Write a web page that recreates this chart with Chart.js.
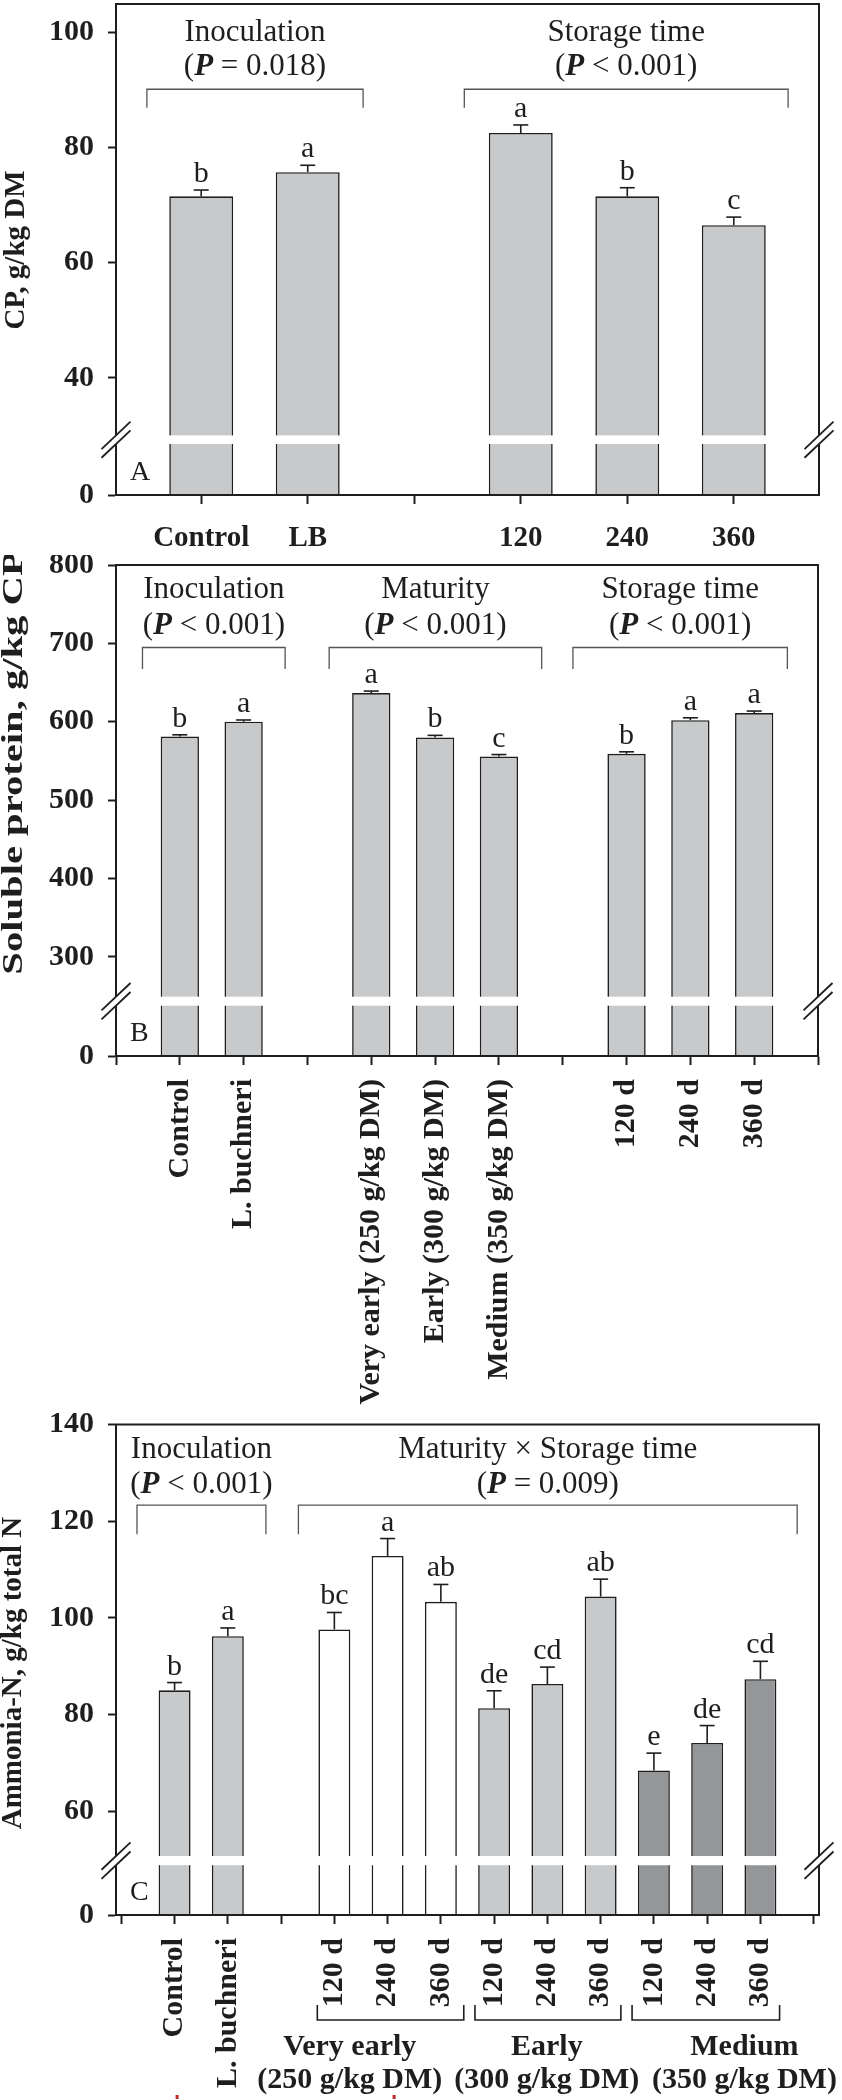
<!DOCTYPE html>
<html>
<head>
<meta charset="utf-8">
<script src="https://cdn.jsdelivr.net/npm/chart.js@4.4.1/dist/chart.umd.min.js"></script>
<style>
  html, body { margin: 0; padding: 0; background: #fff; }
  body { width: 842px; height: 2100px; position: relative; overflow: hidden; }
  canvas { position: absolute; left: 0; }
</style>
</head>
<body>
<canvas id="cA" width="842" height="560" style="top:0px;width:842px;height:560px"></canvas>
<canvas id="cB" width="842" height="865" style="top:555px;width:842px;height:865px"></canvas>
<canvas id="cC" width="842" height="710" style="top:1390px;width:842px;height:710px"></canvas>
<script>
// ---------------- DATA ----------------
// Panel A: crude protein
const catsA = ['Control', 'LB', '', '120', '240', '360'];
const cpA = [71.5, 75.7, null, 82.5, 71.5, 66.5];
const cpErrA = [1.1, 1.2, null, 1.4, 1.5, 1.4];
const cpLettersA = ['b', 'a', '', 'a', 'b', 'c'];
const yTicksA = [0, 40, 60, 80, 100];
const groupTitlesA = ['Inoculation', 'Storage time'];
const groupPA = ['= 0.018', '< 0.001'];

// Panel B: soluble protein
const catsB = ['Control', 'L. buchneri', '', 'Very early (250 g/kg DM)', 'Early (300 g/kg DM)', 'Medium (350 g/kg DM)', '', '120 d', '240 d', '360 d'];
const spB = [581, 600, null, 636.5, 580, 555.5, null, 559, 602, 611];
const spErrB = [2.3, 2.2, null, 2.6, 2.6, 2.6, null, 2.6, 3.0, 2.6];
const spLettersB = ['b', 'a', '', 'a', 'b', 'c', '', 'b', 'a', 'a'];
const yTicksB = [0, 300, 400, 500, 600, 700, 800];
const groupTitlesB = ['Inoculation', 'Maturity', 'Storage time'];
const groupPB = ['< 0.001', '< 0.001', '< 0.001'];

// Panel C: ammonia-N
const catsC = ['Control', 'L. buchneri', '', '120 d', '240 d', '360 d', '120 d', '240 d', '360 d', '120 d', '240 d', '360 d'];
const maturityOfC = ['', '', '', 'Very early', 'Very early', 'Very early', 'Early', 'Early', 'Early', 'Medium', 'Medium', 'Medium'];
const nh3C = [85.0, 96.2, null, 97.6, 112.8, 103.3, 81.3, 86.3, 104.4, 68.4, 74.1, 87.3];
const nh3ErrC = [1.6, 1.7, null, 3.5, 3.6, 3.6, 3.6, 3.5, 3.6, 3.6, 3.6, 3.7];
const nh3LettersC = ['b', 'a', '', 'bc', 'a', 'ab', 'de', 'cd', 'ab', 'e', 'de', 'cd'];
const yTicksC = [0, 60, 80, 100, 120, 140];
const groupTitlesC = ['Inoculation', 'Maturity \u00d7 Storage time'];
const groupPC = ['< 0.001', '= 0.009'];
const maturityNamesC = ['Very early', 'Early', 'Medium'];
const maturityDMC = ['(250 g/kg DM)', '(300 g/kg DM)', '(350 g/kg DM)'];

// ---------------- STYLE ----------------
const FONT = '"Liberation Serif", "Times New Roman", Times, serif';
const INK = '#1e1e1e';
const LIGHT = '#c8c9cb';
const DARK = '#959698';
Chart.defaults.font.family = FONT;
Chart.defaults.color = INK;

// Broken linear axis: values >= gapHigh map linearly; [0, lowMax] compressed to the bottom segment.
class BrokenLinearScale extends Chart.LinearScale {
  configure() {
    super.configure();
    const b = this.options.brk;
    if (b) { this._startValue = b.bottom; this._valueRange = this.max - b.bottom; }
  }
  toVirtual(v) {
    const b = this.options.brk;
    if (!b || v >= b.gapHigh) return v;
    if (v <= b.lowMax) return b.bottom + (v / b.lowMax) * (b.gapLow - b.bottom);
    return b.gapLow + (v - b.lowMax) / (b.gapHigh - b.lowMax) * (b.gapHigh - b.gapLow);
  }
  getPixelForValue(v) { return v == null ? NaN : super.getPixelForValue(this.toVirtual(v)); }
  getPixelForVirtual(v) { return super.getPixelForValue(v); }
}
BrokenLinearScale.id = 'brokenLinear';
BrokenLinearScale.defaults = Chart.LinearScale.defaults;
Chart.register(BrokenLinearScale);

function f(size, weight, style) { return `${style || 'normal'} ${weight || 'normal'} ${size}px ${FONT}`; }

function text(ctx, s, x, y, font, align, sx) {
  ctx.save();
  ctx.font = font; ctx.fillStyle = INK; ctx.textAlign = align || 'center'; ctx.textBaseline = 'alphabetic';
  ctx.translate(x, y); ctx.scale(sx || 1, 1); ctx.fillText(s, 0, 0);
  ctx.restore();
}
function vtext(ctx, s, x, y, font, align, sx) {
  ctx.save();
  ctx.font = font; ctx.fillStyle = INK; ctx.textAlign = align || 'center'; ctx.textBaseline = 'middle';
  ctx.translate(x, y); ctx.rotate(-Math.PI / 2); ctx.scale(sx || 1, 1); ctx.fillText(s, 0, 0);
  ctx.restore();
}
function pLine(ctx, rel, cx, y, size) {
  const parts = [['(', f(size)], ['P', f(size, 'bold', 'italic')], [' ' + rel + ')', f(size)]];
  ctx.save();
  let w = 0;
  parts.forEach(p => { ctx.font = p[1]; w += ctx.measureText(p[0]).width; });
  let xx = cx - w / 2;
  ctx.fillStyle = INK; ctx.textAlign = 'left'; ctx.textBaseline = 'alphabetic';
  parts.forEach(p => { ctx.font = p[1]; ctx.fillText(p[0], xx, y); xx += ctx.measureText(p[0]).width; });
  ctx.restore();
}
function line(ctx, pts, w, color) {
  ctx.save(); ctx.strokeStyle = color || INK; ctx.lineWidth = w || 1; ctx.beginPath();
  pts.forEach((p, i) => i ? ctx.lineTo(p[0], p[1]) : ctx.moveTo(p[0], p[1]));
  ctx.stroke(); ctx.restore();
}

function makeDecor(cfg) {
  return {
    id: 'decor',
    afterDraw(chart) {
      const { ctx, chartArea: ca } = chart;
      const x = chart.scales.x, y = chart.scales.y;
      // break band
      const gHi = y.getPixelForVirtual(cfg.brk.gapHigh), gLo = y.getPixelForVirtual(cfg.brk.gapLow);
      ctx.save(); ctx.fillStyle = '#fff';
      ctx.fillRect(ca.left + 2, gHi, ca.right - ca.left - 4, gLo - gHi);
      ctx.restore();
      // error bars and letters
      cfg.values.forEach((v, i) => {
        if (v == null) return;
        const px = x.getPixelForValue(i);
        const top = y.getPixelForValue(v);
        const cap = y.getPixelForValue(v + cfg.errors[i]);
        line(ctx, [[px, top], [px, cap]], 1.6);
        line(ctx, [[px - 7.5, cap], [px + 7.5, cap]], 1.6);
        if (cfg.letters[i]) text(ctx, cfg.letters[i], px, cap - 8, f(30));
      });
      // frame
      ctx.save(); ctx.strokeStyle = INK; ctx.lineWidth = 2;
      ctx.strokeRect(ca.left, ca.top, ca.right - ca.left, ca.bottom - ca.top);
      ctx.restore();
      // break slashes on both side edges
      [ca.left, ca.right].forEach(xe => {
        const dx = 14.5, dy = 13.7;
        ctx.save(); ctx.fillStyle = '#fff'; ctx.beginPath();
        ctx.moveTo(xe - dx, gHi + dy); ctx.lineTo(xe + dx, gHi - dy);
        ctx.lineTo(xe + dx, gLo - dy); ctx.lineTo(xe - dx, gLo + dy); ctx.closePath(); ctx.fill();
        ctx.restore();
        line(ctx, [[xe - dx, gHi + dy], [xe + dx, gHi - dy]], 1.8);
        line(ctx, [[xe - dx, gLo + dy], [xe + dx, gLo - dy]], 1.8);
      });
      // group brackets with titles
      cfg.groups.forEach((g, k) => {
        const x1 = x.getPixelForValue(g[0]), x2 = x.getPixelForValue(g[1]);
        const cx = (x1 + x2) / 2;
        const yl = y.getPixelForValue(cfg.bracket.line), yd = y.getPixelForValue(cfg.bracket.drop);
        line(ctx, [[x1, yd], [x1, yl], [x2, yl], [x2, yd]], 1.3, '#555');
        text(ctx, cfg.groupTitles[k], cx, y.getPixelForValue(cfg.bracket.titleY), f(31));
        pLine(ctx, cfg.groupP[k], cx, y.getPixelForValue(cfg.bracket.pY), 31);
      });
      // category labels
      cfg.cats.forEach((c, i) => {
        if (!c) return;
        const px = x.getPixelForValue(i);
        if (cfg.rotated) vtext(ctx, c, px, ca.bottom + cfg.labelGap, f(30, 'bold'), 'right');
        else text(ctx, c, px, ca.bottom + cfg.labelGap, f(29, 'bold'));
      });
      // panel letter
      text(ctx, cfg.panel, ca.left + 14, ca.bottom - 15, f(28), 'left');
      // y title
      vtext(ctx, cfg.yTitle, cfg.yTitlePos[0], cfg.yTitlePos[1], f(29, 'bold'), 'center', cfg.yTitleScale || 1);
      if (cfg.extra) cfg.extra(chart);
    }
  };
}

function makePanel(id, cfg) {
  const canvas = document.getElementById(id);
  const H = canvas.height;
  const idx = cfg.values.map((v, i) => v == null ? -1 : i).filter(i => i >= 0);
  return new Chart(canvas, {
    type: 'bar',
    data: {
      datasets: [{
        data: idx.map(i => ({ x: i, y: cfg.values[i] })),
        backgroundColor: idx.map(i => cfg.fill(i)),
        borderColor: INK,
        borderWidth: 1.6,
        barPercentage: 0.6,
        categoryPercentage: 1
      }]
    },
    options: {
      responsive: false, animation: false, devicePixelRatio: 1,
      layout: { padding: { top: cfg.area.top, right: 842 - cfg.area.right, left: 0, bottom: 0 } },
      plugins: { legend: { display: false }, tooltip: { enabled: false } },
      scales: {
        x: {
          type: 'linear', offset: false, min: cfg.xRange[0], max: cfg.xRange[1],
          afterBuildTicks: s => { s.ticks = cfg.xTicks.map(v => ({ value: v })); },
          afterFit: s => { s.height = H - cfg.area.bottom; s.paddingLeft = 0; s.paddingRight = 0; },
          ticks: { display: false },
          grid: { offset: false, drawOnChartArea: false, drawTicks: true, tickLength: 9, tickWidth: 2, tickColor: INK },
          border: { color: INK, width: 2 }
        },
        y: {
          type: 'brokenLinear', min: 0, max: cfg.yMax, brk: cfg.brk,
          afterBuildTicks: s => { s.ticks = cfg.yTicks.map(v => ({ value: v })); },
          afterFit: s => { s.width = cfg.area.left; s.paddingTop = 0; s.paddingBottom = 0; },
          ticks: { autoSkip: false, padding: 14, font: { size: 30, weight: 'bold' }, color: INK, callback: v => String(v) },
          grid: { drawOnChartArea: false, drawTicks: true, tickLength: 8, tickWidth: 2, tickColor: INK },
          border: { color: INK, width: 2 }
        }
      }
    },
    plugins: [makeDecor(cfg)]
  });
}

const range = (a, b) => { const r = []; for (let i = a; i <= b; i++) r.push(i); return r; };

makePanel('cA', {
  cats: catsA, values: cpA, errors: cpErrA, letters: cpLettersA, yTicks: yTicksA,
  groupTitles: groupTitlesA, groupP: groupPA,
  fill: () => LIGHT,
  area: { top: 4, bottom: 495, left: 116, right: 819 },
  xRange: [-0.8, 5.8], xTicks: range(0, 5),
  yMax: 104.9, brk: { bottom: 19.65, gapLow: 28.5, gapHigh: 30, lowMax: 10 },
  groups: [[-0.51, 1.52], [2.47, 5.51]],
  bracket: { line: 90.1, drop: 86.9, titleY: 98.5, pY: 92.6 },
  rotated: false, labelGap: 51, panel: 'A',
  yTitle: 'CP, g/kg DM', yTitlePos: [17, 250]
});

makePanel('cB', {
  cats: catsB, values: spB, errors: spErrB, letters: spLettersB, yTicks: yTicksB,
  groupTitles: groupTitlesB, groupP: groupPB,
  fill: () => LIGHT,
  area: { top: 10, bottom: 501, left: 116, right: 818 },
  xRange: [-1, 10], xTicks: range(-1, 10),
  yMax: 800, brk: { bottom: 173.4, gapLow: 237.6, gapHigh: 249.1, lowMax: 100 },
  groups: [[-0.585, 1.65], [2.34, 5.67], [6.16, 9.52]],
  bracket: { line: 694.7, drop: 667.3, titleY: 757.9, pY: 712.5 },
  rotated: true, labelGap: 23, panel: 'B',
  yTitle: 'Soluble protein, g/kg CP', yTitlePos: [15, 208], yTitleScale: 1.4
});

makePanel('cC', {
  cats: catsC, values: nh3C, errors: nh3ErrC, letters: nh3LettersC, yTicks: yTicksC,
  groupTitles: groupTitlesC, groupP: groupPC,
  fill: i => maturityOfC[i] === 'Very early' ? '#ffffff' : (maturityOfC[i] === 'Medium' ? DARK : LIGHT),
  area: { top: 34.5, bottom: 525, left: 116, right: 819 },
  xRange: [-1.1, 12.1], xTicks: range(-1, 12),
  yMax: 140, brk: { bottom: 38.5, gapLow: 48.8, gapHigh: 50.7, lowMax: 20 },
  groups: [[-0.706, 1.715], [2.325, 11.69]],
  bracket: { line: 123.3, drop: 117.3, titleY: 133.1, pY: 125.8 },
  rotated: true, labelGap: 23, panel: 'C',
  yTitle: 'Ammonia-N, g/kg total N', yTitlePos: [14, 283],
  extra: chart => {
    const { ctx, chartArea: ca } = chart;
    const x = chart.scales.x;
    const spans = [[2.68, 5.43], [5.64, 8.38], [8.59, 11.36]];
    const centers = [3.29, 6.99, 10.7];
    spans.forEach((s, k) => {
      const x1 = x.getPixelForValue(s[0]), x2 = x.getPixelForValue(s[1]);
      line(ctx, [[x1, ca.bottom + 90], [x1, ca.bottom + 105], [x2, ca.bottom + 105], [x2, ca.bottom + 90]], 1.6);
      const cx = x.getPixelForValue(centers[k]);
      text(ctx, maturityNamesC[k], cx, ca.bottom + 140, f(30, 'bold'));
      text(ctx, maturityDMC[k], cx, ca.bottom + 173, f(30, 'bold'));
    });
    ctx.save(); ctx.fillStyle = '#c0282d';
    ctx.fillRect(x.getPixelForValue(0) + 1, ca.bottom + 180, 3, 4);
    ctx.fillRect(x.getPixelForValue(4) + 5, ca.bottom + 180, 3, 4);
    ctx.restore();
  }
});
</script>
</body>
</html>
